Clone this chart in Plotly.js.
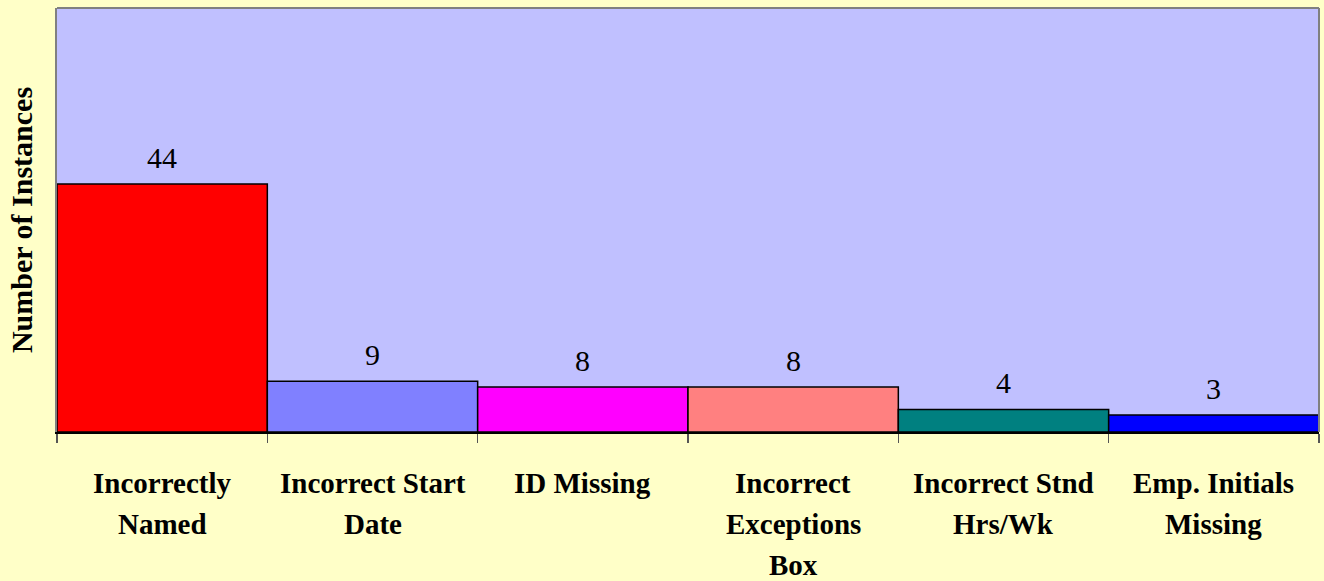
<!DOCTYPE html>
<html>
<head>
<meta charset="utf-8">
<script src="https://cdn.plot.ly/plotly-3.0.1.min.js"></script>
<style>html,body{margin:0;padding:0;background:#FFFFC8;}#chart{width:1324px;height:581px;}</style>
</head>
<body>
<div id="chart"></div>
<script>
const categories = ["Incorrectly<br>Named", "Incorrect Start<br>Date", "ID Missing", "Incorrect<br>Exceptions<br>Box", "Incorrect Stnd<br>Hrs/Wk", "Emp. Initials<br>Missing"];
const values = [44, 9, 8, 8, 4, 3];
const barColors = ["#FF0000", "#8080FF", "#FF00FF", "#FF8080", "#008080", "#0000FF"];
const yTitle = "Number of Instances";

const serif = "Liberation Serif";

const annotations = [];
categories.forEach((c, i) => {
  annotations.push({
    x: c, y: values[i], xref: 'x', yref: 'y',
    text: String(values[i]), showarrow: false,
    yanchor: 'bottom', yshift: 8,
    font: {family: serif, size: 30, color: '#000'}
  });
  c.split('<br>').forEach((line, j) => {
    annotations.push({
      x: c, y: 0, xref: 'x', yref: 'paper',
      text: '<b>' + line + '</b>', showarrow: false,
      yanchor: 'middle', yshift: -(51 + 41 * j),
      font: {family: serif, size: 29, color: '#000'}
    });
  });
});

const trace = {
  type: 'bar', x: categories, y: values,
  marker: {color: barColors, line: {color: '#000', width: 1.5}},
  width: 1, hoverinfo: 'none'
};

const layout = {
  width: 1324, height: 581,
  paper_bgcolor: '#FFFFC8', plot_bgcolor: '#C0C0FF',
  margin: {l: 57, r: 5, t: 8, b: 149},
  bargap: 0, showlegend: false,
  font: {family: serif},
  xaxis: {
    type: 'category', showticklabels: false, tickson: 'boundaries',
    ticks: 'outside', ticklen: 9, tickcolor: '#555', tickwidth: 1.5,
    showline: true, linecolor: '#000', linewidth: 2, showgrid: false,
    mirror: false, zeroline: false
  },
  yaxis: {
    range: [0, 75.2], showticklabels: false, ticks: '', showgrid: false,
    zeroline: false, showline: true, linecolor: '#808080', linewidth: 2,
    title: {text: '<b>' + yTitle + '</b>', font: {family: serif, size: 30, color: '#000'}, standoff: 14}
  },
  shapes: [
    {type: 'line', xref: 'paper', yref: 'paper', x0: 0, x1: 1, y0: 1, y1: 1, line: {color: '#808080', width: 2}},
    {type: 'line', xref: 'paper', yref: 'paper', x0: 1, x1: 1, y0: 0, y1: 1, line: {color: '#808080', width: 2}}
  ],
  annotations: annotations
};

Plotly.newPlot('chart', [trace], layout, {staticPlot: true});
</script>
</body>
</html>
